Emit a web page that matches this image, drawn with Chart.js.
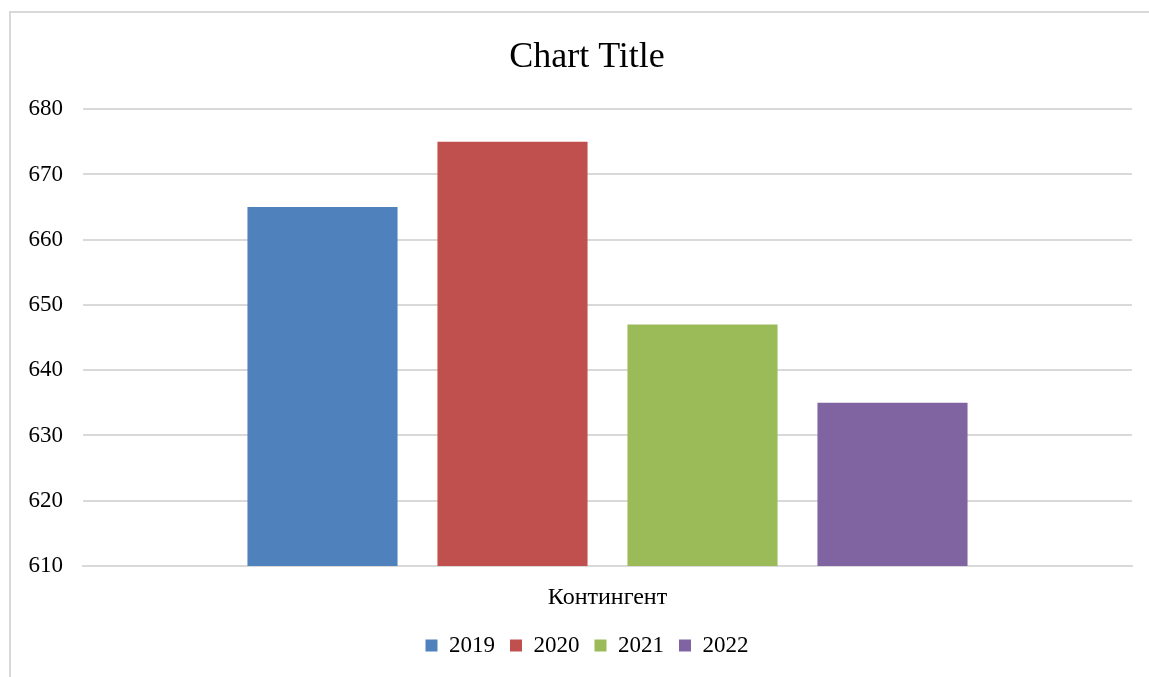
<!DOCTYPE html>
<html>
<head>
<meta charset="utf-8">
<script src="https://cdn.jsdelivr.net/npm/chart.js@4.4.1/dist/chart.umd.min.js"></script>
<style>
  html, body { margin: 0; padding: 0; background: #fff; overflow: hidden; }
  body { width: 1149px; height: 677px; position: relative; }
  #frame {
    position: absolute; left: 9px; top: 11px; width: 1160px; height: 700px;
    border-top: 2px solid #d9d9d9; border-left: 2px solid #d9d9d9;
  }
  #wrap { position: absolute; left: 11px; top: 13px; width: 1152px; height: 664px; }
</style>
</head>
<body>
<div id="frame"></div>
<div id="wrap"><canvas id="chart"></canvas></div>
<script>
const categories = ["Контингент"];
const seriesNames = ["2019", "2020", "2021", "2022"];
const seriesValues = [[665], [675], [647], [635]];
const seriesColors = ["#4F81BD", "#C0504D", "#9BBB59", "#8064A2"];
const yMin = 610, yMax = 680, yStep = 10;

const serif = "'Liberation Serif', 'Times New Roman', serif";

const datasets = seriesNames.map((name, i) => ({
  label: name,
  data: seriesValues[i],
  backgroundColor: seriesColors[i],
  borderWidth: 0,
  categoryPercentage: 0.7245,
  barPercentage: 0.79
}));

new Chart(document.getElementById("chart"), {
  type: "bar",
  data: { labels: categories, datasets },
  options: {
    responsive: true,
    maintainAspectRatio: false,
    animation: false,
    layout: { padding: { left: 0, right: 0, top: 0, bottom: 10 } },
    plugins: {
      title: {
        display: true,
        text: "Chart Title",
        color: "#000",
        font: { family: serif, size: 36, weight: "normal" },
        padding: { top: 23, bottom: 30 }
      },
      legend: {
        position: "bottom",
        labels: {
          color: "#000",
          font: { family: serif, size: 23 },
          boxWidth: 12,
          boxHeight: 12,
          padding: 15
        }
      },
      tooltip: { enabled: false }
    },
    scales: {
      x: {
        grid: { display: false, drawTicks: false },
        border: { display: true, color: "#d9d9d9", width: 2 },
        ticks: { color: "#000", font: { family: serif, size: 24 }, padding: 17 },
        afterFit: (scale) => { scale.height = 53; }
      },
      y: {
        min: yMin,
        max: yMax,
        ticks: { stepSize: yStep, color: "#000", font: { family: serif, size: 23 }, padding: 20 },
        grid: { color: "#d9d9d9", lineWidth: 2, drawTicks: false },
        border: { display: false },
        afterFit: (scale) => { scale.width = 72; }
      },
      // empty spacer on the right so the title/legend centre like the original
      spacer: {
        type: "linear",
        position: "right",
        grid: { display: false },
        ticks: { display: false },
        border: { display: false },
        afterFit: (scale) => { scale.width = 31; }
      }
    }
  }
});
</script>
</body>
</html>
